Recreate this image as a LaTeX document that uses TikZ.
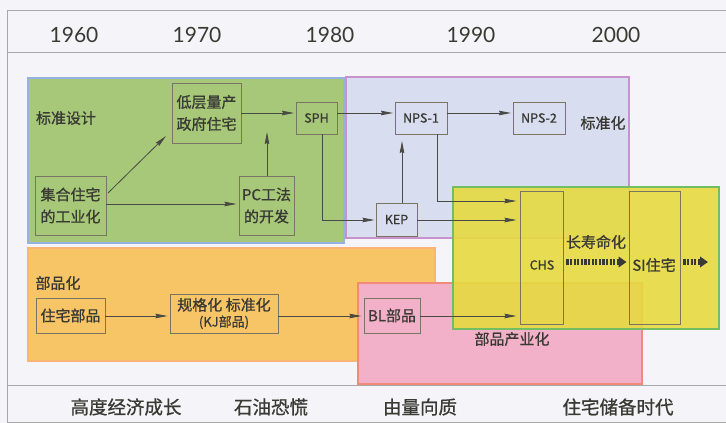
\documentclass[tikz,border=0pt]{standalone}
\usepackage{fontspec}
\setmainfont{Noto Sans CJK SC}[FakeBold=0.9]
\newfontfamily\yearfont{Lato}
\usetikzlibrary{arrows.meta}
\definecolor{bgc}{HTML}{F5F5F9}
\definecolor{framec}{HTML}{A8A8A8}
\definecolor{greenfill}{HTML}{A6C878}
\definecolor{greenedge}{HTML}{95B2E2}
\definecolor{lavfill}{HTML}{D9DDF0}
\definecolor{lavedge}{HTML}{C893CC}
\definecolor{orfill}{HTML}{F7C466}
\definecolor{oredge}{HTML}{F9B476}
\definecolor{pkfill}{HTML}{F2B1C8}
\definecolor{pkedge}{HTML}{F08A7A}
\definecolor{yefill}{HTML}{E6DA40}
\definecolor{yeedge}{HTML}{72BE62}
\definecolor{boxc}{HTML}{7A7462}
\definecolor{txtc}{HTML}{3A3A34}
\definecolor{linec}{HTML}{4A4A44}
\tikzset{
  region/.style={line width=1.2pt},
  boxnode/.style={draw=boxc, line width=0.9pt, inner sep=0pt, text=txtc, align=center,
    font=\fontsize{15}{22}\selectfont},
  latinbox/.style={boxnode, font=\fontsize{12.5}{15}\selectfont},
  lbl/.style={text=txtc, inner sep=0pt, font=\fontsize{15}{20}\selectfont},
  yearlbl/.style={text=txtc, inner sep=0pt, font=\yearfont\fontsize{21}{24}\selectfont},
  eralbl/.style={text=txtc, inner sep=0pt, font=\fontsize{18.5}{22}\selectfont},
  conn/.style={draw=linec, line width=0.8pt, -{Stealth[length=12pt,width=4.5pt,inset=1pt]}},
  dotarrow/.style={draw=txtc, line width=5.5pt, dash pattern=on 2.2pt off 1.4pt,
    -{Triangle[length=8pt,width=10.5pt]}}
}
\begin{document}
\begin{tikzpicture}[x=1pt,y=-1pt]
\useasboundingbox (0,0) rectangle (726,423);
\fill[bgc] (0,0) rectangle (726,423);
% frame
\draw[framec, line width=0.9pt] (726,10) -- (7,10) -- (7,422) -- (726,422);
\draw[framec, line width=0.9pt] (7,52) -- (726,52);
\draw[framec, line width=0.9pt] (7,385) -- (726,385);
% years
\node[yearlbl] (y60) at (74,35) {1960};
\node[yearlbl] (y70) at (197,35) {1970};
\node[yearlbl] (y80) at (330,35) {1980};
\node[yearlbl] (y90) at (471,35) {1990};
\node[yearlbl] (y00) at (616,35) {2000};
% regions
\draw[region, fill=greenfill, draw=greenedge] (28,78) rectangle (344,243);
\draw[region, fill=lavfill, draw=lavedge] (346,77) rectangle (629,238);
\draw[region, fill=orfill, draw=oredge] (28,248) rectangle (435,361);
\draw[region, fill=pkfill, draw=pkedge] (358,283) rectangle (642,384);
\draw[region, fill=yefill, fill opacity=0.9, draw=yeedge] (453,187) rectangle (719,329);
% region labels
\node[lbl] (bzsj) at (66,118) {标准设计};
\node[lbl] (bzh) at (603,123) {标准化};
\node[lbl] (csmh) at (596,242) {长寿命化};
\node[lbl] (bph) at (58,283) {部品化};
\node[lbl] (bpcyh) at (512,339) {部品产业化};
% boxes
\node[boxnode, minimum width=69pt, minimum height=60pt] (low) at (206.5,113) {低层量产\\政府住宅};
\node[latinbox, minimum width=41pt, minimum height=32pt] (sph) at (316.5,118) {SPH};
\node[boxnode, minimum width=71pt, minimum height=59pt] (ind) at (70.5,205.5) {集合住宅\\的工业化};
\node[boxnode, minimum width=55pt, minimum height=59pt] (pc) at (266.5,205.5) {PC工法\\的开发};
\node[latinbox, minimum width=52pt, minimum height=32pt] (nps1) at (421,118) {NPS-1};
\node[latinbox, minimum width=52pt, minimum height=32pt] (nps2) at (539,118) {NPS-2};
\node[latinbox, minimum width=41pt, minimum height=33pt] (kep) at (396.5,219.5) {KEP};
\node[boxnode, minimum width=43pt, minimum height=133pt] (chs) at (541.5,257.5) {};
\node[boxnode, minimum width=51pt, minimum height=133pt] (si) at (654.5,257.5) {};
\node[latinbox, draw=none] (chslbl) at (542,265) {CHS};
\node[boxnode, draw=none] (silbl) at (654,265) {SI住宅};
\node[boxnode, minimum width=56pt, minimum height=35pt] (bl) at (392,315.5) {BL部品};
\node[boxnode, minimum width=69pt, minimum height=35pt] (zzbp) at (70.5,315.5) {住宅部品};
\node[boxnode, minimum width=108pt, minimum height=39pt, font=\fontsize{15}{16}\selectfont] (kj) at (224,313.5) {规格化 标准化\\{\fontsize{13}{13}\selectfont (KJ部品)}};
% level coordinates
\coordinate (ytop) at (0,113);
\coordinate (ymid) at (0,204);
\coordinate (ykep) at (0,220);
\coordinate (ynps) at (0,201);
\coordinate (ybot) at (0,316);
\coordinate (ydot) at (0,262);
\coordinate (pcup) at (267,132);
\coordinate (indlow) at (166,136);
\coordinate (indout) at (108,193);
\coordinate (kepup) at (402,141);
\coordinate (sphdown) at (322,220);
\coordinate (npsdown) at (437,201);
\coordinate (dotend) at (708,262);
% connectors
\draw[conn] (indout) -- (indlow);
\draw[conn] (ind.east |- ymid) -- ([xshift=-2pt]pc.west |- ymid);
\draw[conn] (pc.north -| pcup) -- (pcup);
\draw[conn] (low.east |- ytop) -- ([xshift=-1.5pt]sph.west |- ytop);
\draw[conn] (sph.east |- ytop) -- ([xshift=-1.5pt]nps1.west |- ytop);
\draw[conn] (nps1.east |- ytop) -- ([xshift=-1.5pt]nps2.west |- ytop);
\draw[conn] (sph.south -| sphdown) -- (sphdown) -- ([xshift=-1pt]kep.west |- ykep);
\draw[conn] (kep.north -| kepup) -- (kepup);
\draw[conn] (nps1.south -| npsdown) -- (npsdown) -- ([xshift=-3pt]chs.west |- ynps);
\draw[conn] (kep.east |- ykep) -- ([xshift=-3pt]chs.west |- ykep);
\draw[conn] (zzbp.east |- ybot) -- ([xshift=-2pt]kj.west |- ybot);
\draw[conn] (kj.east |- ybot) -- ([xshift=-2pt]bl.west |- ybot);
\draw[conn] (bl.east |- ybot) -- ([xshift=-3pt]chs.west |- ybot);
\draw[dotarrow] ([xshift=3pt]chs.east |- ydot) -- ([xshift=-2pt]si.west |- ydot);
\draw[dotarrow] ([xshift=3pt]si.east |- ydot) -- (dotend);
% era labels
\node[eralbl] (e1) at (126,407) {高度经济成长};
\node[eralbl] (e2) at (271,407) {石油恐慌};
\node[eralbl] (e3) at (420,407) {由量向质};
\node[eralbl] (e4) at (618,407) {住宅储备时代};
\end{tikzpicture}
\end{document}
